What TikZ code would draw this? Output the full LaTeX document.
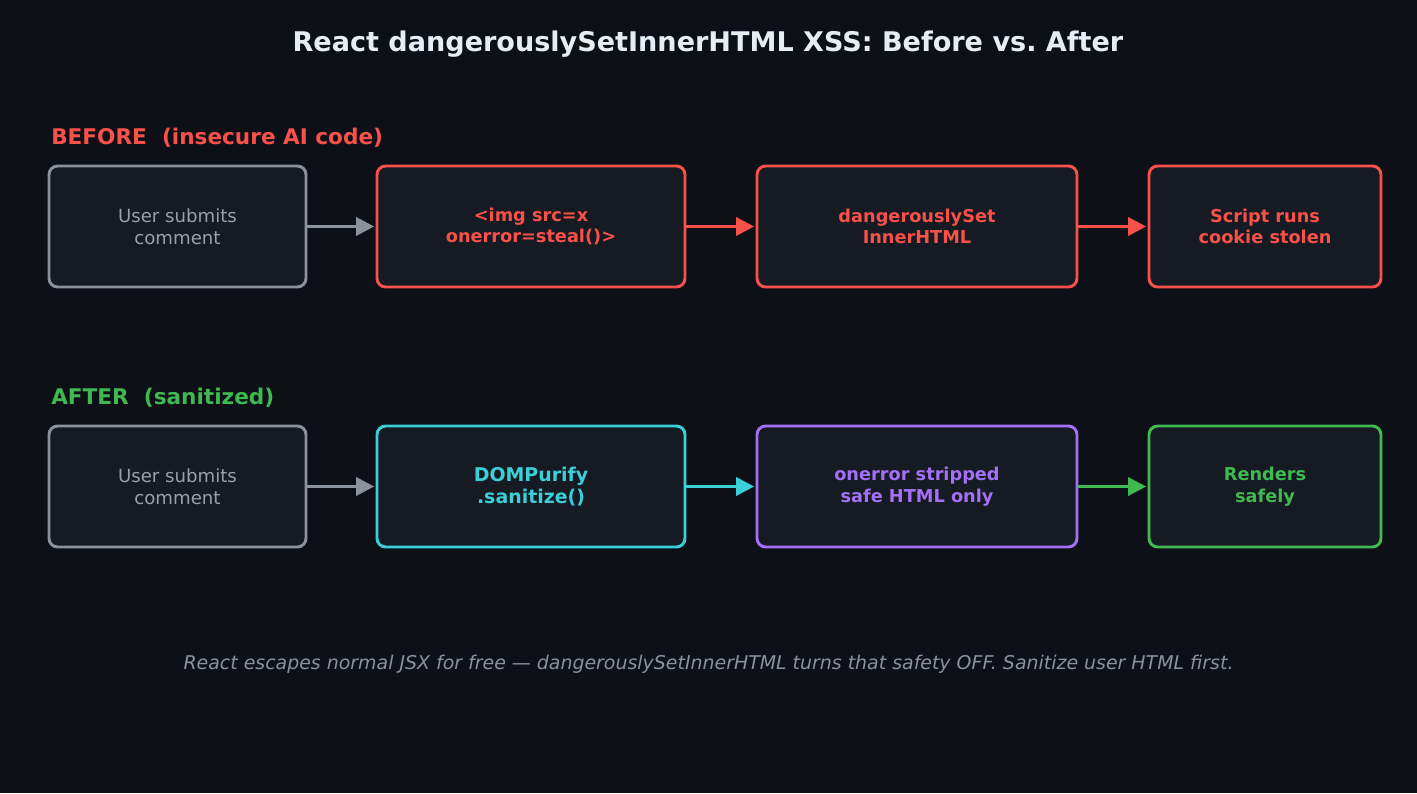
\documentclass[tikz,border=0pt]{standalone}
\usepackage{fontspec}
\setmainfont{DejaVu Sans}
\usetikzlibrary{arrows.meta}
\frenchspacing
\definecolor{bg}{HTML}{0D1017}
\definecolor{boxfill}{HTML}{161A22}
\definecolor{cgrey}{HTML}{8B929B}
\definecolor{tgrey}{HTML}{9AA0A8}
\definecolor{cred}{HTML}{F85149}
\definecolor{ccyan}{HTML}{39D0D8}
\definecolor{cpurple}{HTML}{A371F7}
\definecolor{cgreen}{HTML}{3FB950}
\definecolor{ctitle}{HTML}{E6EDF3}
\tikzset{
  stepbox/.style={draw=#1, fill=boxfill, line width=2.2pt, rounded corners=6.5pt, align=center, inner sep=0pt, text=#1, font=\bfseries\fontsize{13.3}{16.3}\selectfont},
  greybox/.style={stepbox=cgrey, text=tgrey, font=\fontsize{13.6}{16.5}\selectfont},
  conn/.style={draw=#1, line width=2.4pt, -{Triangle[length=13.5pt,width=13.5pt]}, shorten >=1pt},
}
\begin{document}
\begin{tikzpicture}[x=0.75pt,y=-0.75pt]
\fill[bg] (0,0) rectangle (1417,793);
\useasboundingbox (0,0) rectangle (1417,793);
\node[text=ctitle, font=\bfseries\fontsize{20.3}{24}\selectfont] (title) at (708,44) {React dangerouslySetInnerHTML XSS: Before vs. After};
\node[text=cred, font=\bfseries\fontsize{16.2}{19}\selectfont, anchor=west, inner sep=0pt] (before) at (51,138) {BEFORE\ \ (insecure AI code)};
\node[text=cgreen, font=\bfseries\fontsize{16.2}{19}\selectfont, anchor=west, inner sep=0pt] (after) at (51,398) {AFTER\ \ (sanitized)};
% row 1
\node[greybox, minimum width=257*0.75pt, minimum height=121*0.75pt] (b1) at (177.5,226.5) {User submits\\comment};
\node[stepbox=cred, minimum width=308*0.75pt, minimum height=121*0.75pt] (b2) at (531,226.5) {<img src=x\\onerror=steal()>};
\node[stepbox=cred, minimum width=320*0.75pt, minimum height=121*0.75pt] (b3) at (917,226.5) {dangerouslySet\\InnerHTML};
\node[stepbox=cred, minimum width=232*0.75pt, minimum height=121*0.75pt] (b4) at (1265,226.5) {Script runs\\cookie stolen};
\draw[conn=cgrey] (b1) -- (b2);
\draw[conn=cred] (b2) -- (b3);
\draw[conn=cred] (b3) -- (b4);
% row 2
\node[greybox, minimum width=257*0.75pt, minimum height=121*0.75pt] (c1) at (177.5,486.5) {User submits\\comment};
\node[stepbox=ccyan, font=\bfseries\fontsize{14.2}{17}\selectfont, minimum width=308*0.75pt, minimum height=121*0.75pt] (c2) at (531,486.5) {DOMPurify\\.sanitize()};
\node[stepbox=cpurple, minimum width=320*0.75pt, minimum height=121*0.75pt] (c3) at (917,486.5) {onerror stripped\\safe HTML only};
\node[stepbox=cgreen, minimum width=232*0.75pt, minimum height=121*0.75pt] (c4) at (1265,486.5) {Renders\\safely};
\draw[conn=cgrey] (c1) -- (c2);
\draw[conn=ccyan] (c2) -- (c3);
\draw[conn=cgreen] (c3) -- (c4);
\node[text=cgrey, font=\itshape\fontsize{14.2}{17}\selectfont] (foot) at (708.5,664) {React escapes normal JSX for free — dangerouslySetInnerHTML turns that safety OFF. Sanitize user HTML first.};
\end{tikzpicture}
\end{document}
